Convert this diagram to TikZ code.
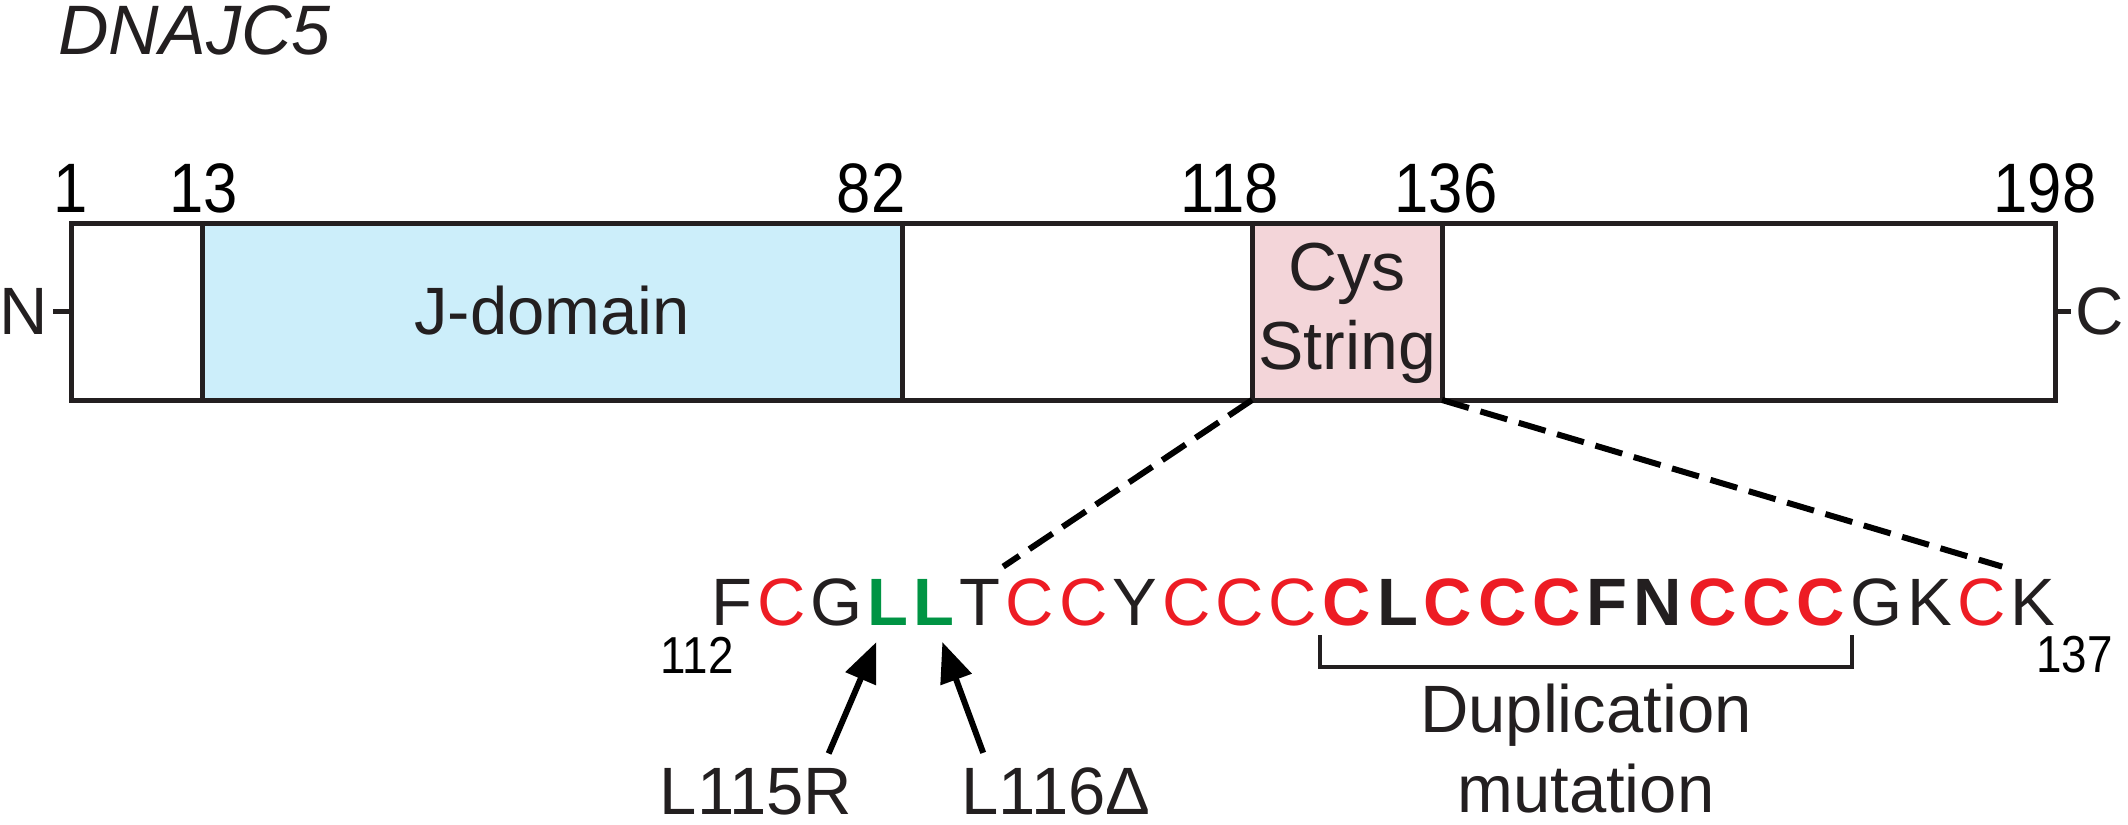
\documentclass[tikz,border=0pt]{standalone}
\usepackage{fontspec}
\setmainfont{Liberation Sans}
\newfontfamily\narrowfont[FakeStretch=0.88]{Liberation Sans}
\usetikzlibrary{arrows.meta, positioning}
\definecolor{linecol}{RGB}{35,31,32}
\definecolor{cysred}{RGB}{237,28,36}
\definecolor{mutgreen}{RGB}{0,148,68}
\definecolor{jblue}{RGB}{204,238,250}
\definecolor{cyspink}{RGB}{243,213,217}
\tikzset{%
	every residue/.style={
		inner xsep=1.05pt,
		inner ysep=0pt,
		anchor=base west,
		text height=25pt,
		text depth=0pt,
		font=\fontsize{33.5}{40}\selectfont
	},
	res/.style={every residue, text=linecol},
	cys/.style={every residue, text=cysred},
	bres/.style={every residue, inner xsep=1.28pt, text=linecol, font=\fontsize{33.5}{40}\selectfont\bfseries},
	bcys/.style={every residue, inner xsep=1.28pt, text=cysred, font=\fontsize{33.5}{40}\selectfont\bfseries},
	mut/.style={every residue, text=mutgreen, font=\fontsize{33.5}{40}\selectfont\bfseries},
	seg/.style={draw=linecol, line width=2.5pt},
	num/.style={font=\narrowfont\fontsize{35}{40}\selectfont, inner sep=0pt, anchor=base},
	sub/.style={font=\narrowfont\fontsize{26}{30}\selectfont, inner sep=0pt},
	lbl/.style={font=\fontsize{33.5}{40}\selectfont, inner sep=0pt, text=linecol},
	zoomline/.style={draw=black, line width=3pt, dash pattern=on 14pt off 6pt},
	brk/.style={draw=linecol, line width=2pt},
	mutarrow/.style={draw=black, line width=3pt, -{Triangle[length=20pt, width=16pt]}},
}
\begin{document}
\begin{tikzpicture}[x=0.5pt, y=-0.5pt]
	\useasboundingbox (0,0) rectangle (2128,824);
	\node[lbl, anchor=base west, font=\fontsize{35}{40}\selectfont\itshape] (gene) at (58,55) {DNAJC5};
	% protein bar
	\foreach \a/\b/\f in {71/202/white, 202/902/jblue, 902/1252/white, 1252/1442/cyspink, 1442/2055/white}
		\draw[seg, fill=\f] (\a,223.5) rectangle (\b,400);
	\node[lbl] (jdom) at (552,311) {J-domain};
	\node[lbl, align=center, font=\fontsize{34}{39.5}\selectfont] (cysdom) at (1347,313) {Cys\\String};
	\foreach \x/\t in {71/1, 204/13, 871/82, 1230/118, 1446/136, 2045/198}
		\node[num] (n\t) at (\x,212) {\t};
	% termini
	\coordinate (nbox) at (71,311.5);
	\coordinate (ntick) at (53,311.5);
	\coordinate (cbox) at (2055,311.5);
	\coordinate (ctick) at (2071,311.5);
	\node[lbl, anchor=east] (nterm) at ([xshift=-2.5pt]ntick) {N};
	\node[lbl, anchor=west] (cterm) at ([xshift=1.8pt]ctick) {C};
	\draw[seg] (nbox) -- (ntick);
	\draw[seg] (cbox) -- (ctick);
	% sequence 112-137
	\node[inner sep=0pt, anchor=base east] (r111) at (709,625) {};
	\foreach \n/\aa/\sty [remember=\n as \p (initially 111)] in {112/F/res, 113/C/cys, 114/G/res, 115/L/mut, 116/L/mut, 117/T/res, 118/C/cys, 119/C/cys, 120/Y/res, 121/C/cys, 122/C/cys, 123/C/cys, 124/C/bcys, 125/L/bres, 126/C/bcys, 127/C/bcys, 128/C/bcys, 129/F/bres, 130/N/bres, 131/C/bcys, 132/C/bcys, 133/C/bcys, 134/G/res, 135/K/res, 136/C/cys, 137/K/res}
		\node[\sty] (r\n) at (r\p.base east) {\aa};
	\node[sub, anchor=base east] (s112) at ([xshift=12.5pt,yshift=-24pt]r112.base west) {112};
	\node[sub, anchor=base west] (s137) at ([xshift=-11pt,yshift=-23.5pt]r137.base east) {137};
	\coordinate (cysL) at (1252,400);
	\coordinate (cysR) at (1442,400);
	\draw[zoomline] (cysL) -- ([yshift=4pt]r118.north west);
	\draw[zoomline] (cysR) -- ([xshift=-3pt,yshift=4pt]r136.north east);
	% duplication
	\draw[brk] ([yshift=-5pt]r124.base west) -- ([yshift=-21pt]r124.base west) coordinate (brkL)
		-- ([xshift=2pt,yshift=-21pt]r133.base east) coordinate (brkR) -- ([xshift=2pt,yshift=-5pt]r133.base east);
	\path (brkL) -- (brkR) coordinate[midway] (brkmid);
	\node[lbl, align=center, below=8.5pt of brkmid] (dup) {Duplication\\mutation};
	% point mutations
	\node[lbl, anchor=base] (m115) at (756,814) {L115R};
	\node[lbl, anchor=base] (m116) at (1056,814) {L116Δ};
	\draw[mutarrow] ([xshift=-12pt,yshift=7pt]m115.north east) -- ([xshift=-6pt,yshift=-8.5pt]r115.base);
	\draw[mutarrow] ([xshift=11pt,yshift=7pt]m116.north west) -- ([xshift=4pt,yshift=-8.5pt]r116.base);
\end{tikzpicture}
\end{document}
